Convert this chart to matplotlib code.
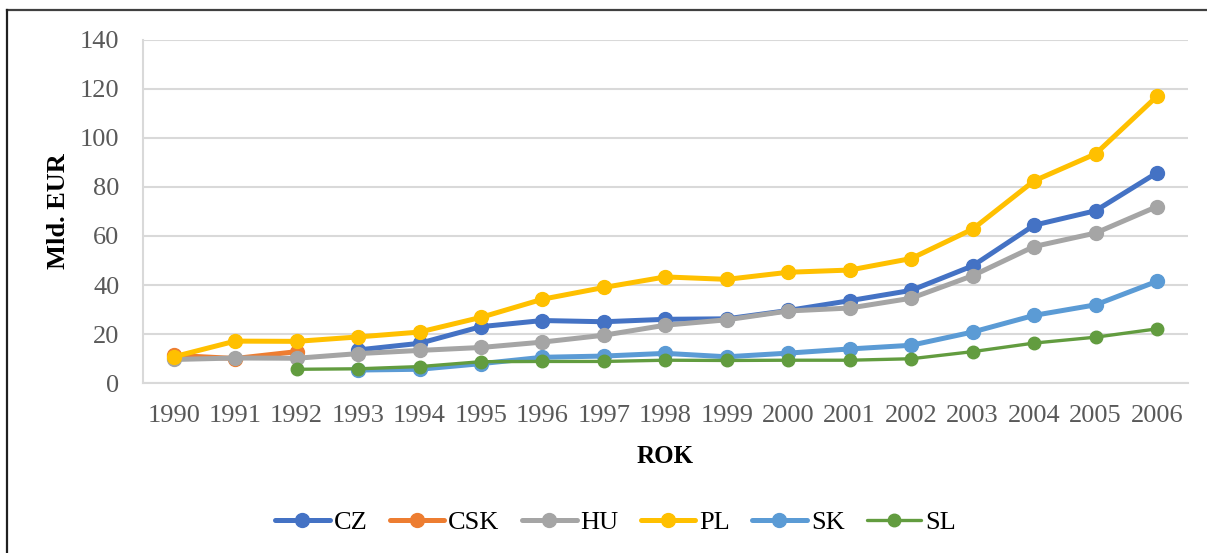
import numpy as np
import matplotlib.pyplot as plt
from matplotlib.lines import Line2D

years = [str(y) for y in range(1990, 2007)]

# values in Mld. EUR, None where the series has no data
cz = [None, None, None, 13.5, 16.2, 23.0, 25.5, 25.0, 26.0, 26.2, 29.6, 33.6, 37.8, 47.8, 64.4, 70.3, 85.8]
csk = [11.3, 10.0, 12.8] + [None] * 14
hu = [9.6, 10.2, 10.1, 12.0, 13.3, 14.5, 16.7, 19.5, 23.6, 25.8, 29.4, 30.6, 34.6, 43.8, 55.7, 61.2, 72.0]
pl = [10.7, 17.1, 17.0, 18.8, 20.8, 26.8, 34.2, 39.0, 43.3, 42.3, 45.2, 46.1, 50.8, 62.8, 82.5, 93.5, 117.0]
sk = [None, None, None, 5.3, 5.6, 7.9, 10.5, 11.0, 12.1, 10.7, 12.2, 13.9, 15.4, 20.8, 27.6, 31.9, 41.5]
sl = [None, None, 5.6, 5.8, 6.7, 8.7, 8.8, 8.8, 9.3, 9.2, 9.3, 9.3, 9.9, 12.8, 16.3, 18.7, 22.1]

series = [('CZ', cz, '#4472C4'), ('CSK', csk, '#ED7D31'), ('HU', hu, '#A5A5A5'),
          ('PL', pl, '#FFC000'), ('SK', sk, '#5B9BD5'), ('SL', sl, '#629C3F')]

plt.rcParams['font.family'] = ['Liberation Serif', 'DejaVu Serif']

fig = plt.figure(figsize=(12.07, 5.53), dpi=100)
ax = fig.add_axes([0.1185, 0.3074, 0.8655, 0.6203])

x = np.arange(len(years))
for name, vals, color in series:
    y = np.array([np.nan if v is None else v for v in vals], dtype=float)
    thin = name == 'SL'
    ax.plot(x, y, color=color, lw=2.4 if thin else 3.6, marker='o',
            markersize=9 if thin else 10, solid_capstyle='round',
            solid_joinstyle='round', label=name)

ax.set_xlim(-0.5, len(years) - 0.5)
ax.set_ylim(0, 140)
ax.set_yticks(range(0, 141, 20))
ax.set_xticks(x)
ax.set_xticklabels(years)
ax.tick_params(axis='both', length=0, labelsize=19, labelcolor='#595959')
ax.tick_params(axis='y', pad=17)
ax.tick_params(axis='x', pad=16)
ax.grid(axis='y', color='#D9D9D9', lw=1.5)
ax.set_axisbelow(True)
for s in ['top', 'right']:
    ax.spines[s].set_visible(False)
for s in ['left', 'bottom']:
    ax.spines[s].set_color('#D9D9D9')
    ax.spines[s].set_linewidth(1.5)

ax.set_xlabel('ROK', fontsize=18, fontweight='bold', labelpad=13)
ax.set_ylabel('Mld. EUR', fontsize=19, fontweight='bold', labelpad=7)

fig.legend(loc='center', bbox_to_anchor=(0.51, 0.056), ncol=6, frameon=False,
           fontsize=19, handlelength=2.08, columnspacing=0.83, handletextpad=0.15)

# outer frame (top and left edges visible)
fig.add_artist(Line2D([7 / 1207, 1.0], [1 - 10 / 553, 1 - 10 / 553], color='#404040', lw=1.6))
fig.add_artist(Line2D([7 / 1207, 7 / 1207], [0, 1 - 10 / 553], color='#202020', lw=1.6))

plt.savefig('out.png', dpi=100)
